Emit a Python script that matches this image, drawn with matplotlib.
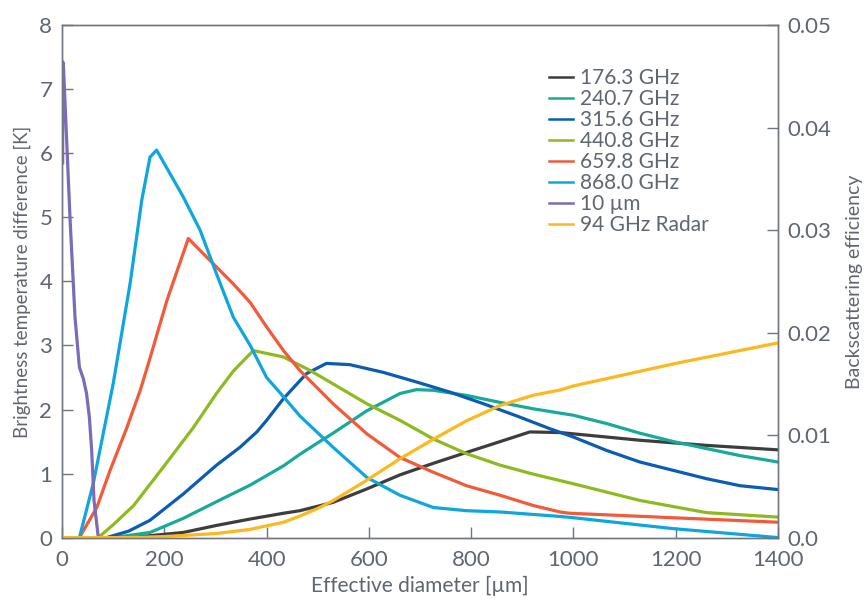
import matplotlib
matplotlib.use("Agg")
from matplotlib import pyplot as plt

plt.rcParams['font.family'] = ['Lato', 'DejaVu Sans']

# brightness temperature difference curves [K] vs effective diameter [um]
d_1763 = [126, 172, 237, 302, 368, 433, 465, 530, 596, 661, 726, 791, 857, 915, 974, 1000, 1130, 1260, 1400]
t_1763 = [0, 0.03, 0.08, 0.19, 0.29, 0.38, 0.42, 0.55, 0.76, 0.98, 1.16, 1.33, 1.5, 1.65, 1.64, 1.62, 1.52, 1.44, 1.37]

d_2407 = [100, 172, 237, 302, 368, 433, 465, 498, 530, 596, 661, 693, 726, 791, 857, 922, 1000, 1065, 1130, 1195, 1260, 1326, 1400]
t_2407 = [0, 0.08, 0.3, 0.56, 0.82, 1.12, 1.3, 1.47, 1.63, 1.98, 2.25, 2.31, 2.3, 2.22, 2.11, 2.01, 1.91, 1.78, 1.63, 1.5, 1.39, 1.28, 1.18]

d_3156 = [87, 130, 172, 237, 302, 348, 381, 400, 433, 478, 517, 563, 628, 693, 759, 824, 889, 954, 1000, 1065, 1130, 1195, 1260, 1326, 1400]
t_3156 = [0, 0.1, 0.27, 0.68, 1.13, 1.41, 1.65, 1.83, 2.17, 2.56, 2.72, 2.7, 2.58, 2.43, 2.27, 2.09, 1.9, 1.7, 1.57, 1.36, 1.18, 1.05, 0.92, 0.81, 0.75]

d_4408 = [71, 100, 140, 198, 257, 302, 335, 374, 433, 485, 530, 596, 661, 726, 791, 857, 922, 1000, 1130, 1260, 1400]
t_4408 = [0, 0.2, 0.5, 1.1, 1.72, 2.25, 2.6, 2.92, 2.82, 2.61, 2.4, 2.09, 1.83, 1.54, 1.31, 1.13, 0.99, 0.84, 0.58, 0.39, 0.32]

d_6598 = [34, 68, 94, 126, 153, 172, 205, 231, 247, 289, 335, 368, 400, 433, 465, 530, 596, 661, 726, 791, 857, 922, 974, 993, 1195, 1400]
t_6598 = [0, 0.47, 1.05, 1.7, 2.3, 2.8, 3.7, 4.3, 4.67, 4.33, 3.96, 3.67, 3.29, 2.92, 2.61, 2.09, 1.62, 1.25, 1.02, 0.81, 0.66, 0.5, 0.4, 0.38, 0.31, 0.24]

d_8680 = [34, 61, 100, 133, 156, 172, 185, 237, 270, 302, 335, 368, 400, 433, 465, 530, 596, 661, 726, 791, 857, 974, 1000, 1195, 1400]
t_8680 = [0, 0.84, 2.4, 3.96, 5.27, 5.94, 6.05, 5.32, 4.8, 4.12, 3.44, 3.0, 2.5, 2.2, 1.9, 1.41, 0.94, 0.66, 0.47, 0.42, 0.4, 0.33, 0.31, 0.14, 0.0]

d_10um = [1.3, 1.3, 2.6, 15.6, 25.4, 34, 41.7, 48, 53.5, 58, 62.6, 71]
t_10um = [5.85, 7.43, 7.4, 5.0, 3.44, 2.66, 2.48, 2.25, 1.88, 1.36, 0.58, 0]

# 94 GHz radar backscattering efficiency (right axis)
d_radar = [6, 130, 200, 302, 368, 433, 465, 498, 530, 596, 661, 726, 791, 857, 922, 974, 1000, 1100, 1200, 1300, 1400]
q_radar = [0, 0, 0.0001, 0.0004, 0.0008, 0.0015, 0.0021, 0.0028, 0.0036, 0.0056, 0.0077, 0.0096, 0.0114, 0.0129, 0.0139, 0.0144, 0.0148, 0.0159, 0.017, 0.018, 0.019]

gray = '#5f6670'
spine = '#707680'

fig = plt.figure(figsize=(8.66, 6.0), dpi=100)
ax = fig.add_axes([0.0716, 0.104, 0.8268, 0.854])
ax2 = ax.twinx()

lw = 2.3
h1, = ax.plot(d_1763, t_1763, color='#3d3d3d', lw=lw, label='176.3 GHz')
h2, = ax.plot(d_2407, t_2407, color='#17aa9c', lw=lw, label='240.7 GHz')
h3, = ax.plot(d_3156, t_3156, color='#0b5cb5', lw=lw, label='315.6 GHz')
h4, = ax.plot(d_4408, t_4408, color='#8dbb1f', lw=lw, label='440.8 GHz')
h5, = ax.plot(d_6598, t_6598, color='#f15a3b', lw=lw, label='659.8 GHz')
h6, = ax.plot(d_8680, t_8680, color='#0ea6dd', lw=lw, label='868.0 GHz')
h7, = ax.plot(d_10um, t_10um, color='#7b6bb8', lw=lw, label='10 µm', zorder=5)
h8, = ax2.plot(d_radar, q_radar, color='#fdb81e', lw=lw, label='94 GHz Radar')

ax.set_xlim(0, 1400)
ax.set_ylim(0, 8)
ax2.set_ylim(0, 0.05)
ax.set_xticks(range(0, 1401, 200))
ax.set_yticks(range(0, 9))
ax2.set_yticks([0, 0.01, 0.02, 0.03, 0.04, 0.05])
ax2.set_yticklabels(['0.0', '0.01', '0.02', '0.03', '0.04', '0.05'])

for a in (ax, ax2):
    for s in a.spines.values():
        s.set_color(spine)
        s.set_linewidth(1.0)
    a.tick_params(direction='in', length=8, width=1, color=spine, labelcolor=gray,
                  labelsize=16, pad=7)
ax.tick_params(axis='x', pad=9)

ax.set_xlabel('Effective diameter [µm]', color=gray, fontsize=15, labelpad=4)
ax.set_ylabel('Brightness temperature difference [K]', color=gray, fontsize=13.5, labelpad=6)
ax2.set_ylabel('Backscattering efficiency', color=gray, fontsize=14, labelpad=10)

leg = ax2.legend(handles=[h1, h2, h3, h4, h5, h6, h7, h8], loc='upper left',
                 bbox_to_anchor=(0.654, 0.953), frameon=False, fontsize=15,
                 handlelength=1.15, labelspacing=0.05, handletextpad=0.35)
for t in leg.get_texts():
    t.set_color(gray)
for l in leg.get_lines():
    l.set_linewidth(1.8)

fig.savefig('out.png', dpi=100)
